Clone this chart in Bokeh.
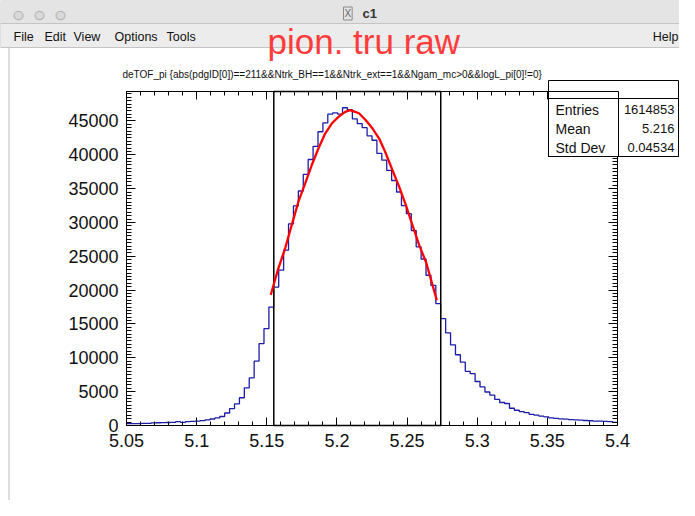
from bokeh.plotting import figure
from bokeh.models import Label, BoxAnnotation, LinearAxis, FixedTicker, Range1d
from bokeh.embed import file_html
from bokeh.resources import INLINE
import numpy as np

# ---------------- data ----------------
x_min, x_max, n_bins = 5.05, 5.40, 100
counts = [270, 280, 290, 300, 310, 400, 410, 420, 440, 450,
          560, 470, 560, 600, 650, 720, 830, 960, 1120, 1330,
          1850, 2500, 3200, 4100, 5550, 7050, 9500, 12100, 14300, 17500,
          20450, 22950, 25900, 29800, 32450, 34650, 37100, 39300, 41250, 43400,
          44700, 46000, 46200, 46000, 46950, 46650, 45300, 44600, 44000, 42800,
          42150, 40200, 39200, 37700, 36200, 34500, 32500, 31300, 28800, 26400,
          24600, 22200, 20700, 18000, 15800, 13700, 11900, 10450, 9350, 8000,
          7650, 6500, 5700, 4950, 4500, 3850, 3400, 3250, 2550, 2250,
          2050, 1900, 1650, 1530, 1380, 1280, 1130, 1050, 990, 930,
          880, 840, 790, 740, 700, 660, 640, 600, 580, 450]
cut_lo, cut_hi = 5.155, 5.274
fit_x = [5.1528, 5.1534, 5.1582, 5.1630, 5.1677, 5.1725, 5.1773, 5.1820, 5.1868,
         5.1916, 5.1963, 5.2011, 5.2059, 5.2094, 5.2130, 5.2159, 5.2206, 5.2254,
         5.2301, 5.2349, 5.2396, 5.2444, 5.2492, 5.2539, 5.2587, 5.2635, 5.2682, 5.2712]
fit_y = [19300, 19720, 23170, 26120, 29570, 33030, 35740, 38450, 40920,
         43140, 44620, 45610, 46350, 46590, 46350, 46090, 45100, 43880,
         42400, 40180, 37710, 35250, 32530, 29570, 26610, 24150, 20700, 18500]
x_ticks = [5.05, 5.1, 5.15, 5.2, 5.25, 5.3, 5.35, 5.4]
x_tick_labels = ["5.05", "5.1", "5.15", "5.2", "5.25", "5.3", "5.35", "5.4"]
y_ticks = [0, 5000, 10000, 15000, 20000, 25000, 30000, 35000, 40000, 45000]
y_max = 49350
title_text = "deTOF_pi {abs(pdgID[0])==211&&Ntrk_BH==1&&Ntrk_ext==1&&Ngam_mc>0&&logL_pi[0]!=0}"
stats_names = ["Entries", "Mean", "Std Dev"]
stats_values = ["1614853", "5.216", "0.04534"]
menu_items = ["File", "Edit", "View", "Options", "Tools"]
menu_x = [13, 44, 73, 114, 166]
overlay_text = "pion. tru raw"

FONT = "Liberation Sans"
W, H = 679, 500
# where the histogram frame sits on the canvas (pixels)
FL, FR, FT, FB = 126, 617, 91, 425

sx = (FR - FL) / (x_max - x_min)
sy = (FB - FT) / y_max
xr = Range1d(x_min - FL / sx, x_max + (W - FR) / sx)
yr = Range1d(-(H - FB) / sy, y_max + FT / sy)

x_minor = [t for t in np.round(np.arange(x_min, x_max + 1e-9, 0.01), 3) if not np.any(np.isclose(t, x_ticks))]
y_minor = [t for t in range(0, y_max, 500) if t not in y_ticks]

edges = np.linspace(x_min, x_max, n_bins + 1)
hx, hy = [], []
for i, c in enumerate(counts):
    hx += [edges[i], edges[i + 1]]
    hy += [c, c]

p = figure(width=W, height=H, output_backend="svg", toolbar_location=None,
           x_range=xr, y_range=yr, x_axis_location=None, y_axis_location=None,
           min_border=0, min_border_left=0, min_border_right=0, min_border_top=0, min_border_bottom=0)
p.background_fill_color = "white"
p.border_fill_color = "white"
p.outline_line_color = None
p.xgrid.visible = False
p.ygrid.visible = False

def style(ax, tick_in, minor_in):
    ax.major_tick_out = 0
    ax.minor_tick_out = 0
    ax.major_tick_in = tick_in
    ax.minor_tick_in = minor_in
    ax.axis_line_color = "black"
    ax.major_tick_line_color = "black"
    ax.minor_tick_line_color = "black"
    ax.axis_line_width = 1

# bottom axis (labelled)
xb = LinearAxis(fixed_location=0, bounds=(x_min, x_max),
                ticker=FixedTicker(ticks=x_ticks, minor_ticks=x_minor),
                major_label_overrides={t: l for t, l in zip(x_ticks, x_tick_labels)},
                major_label_text_font=FONT, major_label_text_font_size="18px",
                major_label_text_color="#111111", major_label_standoff=8)
style(xb, 8, 4)
p.add_layout(xb, "below")
# left axis (labelled)
yl = LinearAxis(fixed_location=x_min, bounds=(0, y_max),
                ticker=FixedTicker(ticks=y_ticks, minor_ticks=y_minor),
                major_label_text_font=FONT, major_label_text_font_size="18px",
                major_label_text_color="#111111", major_label_standoff=8)
style(yl, 9, 5)
p.add_layout(yl, "left")
# top / right axes: tick marks only (no labels)
for loc, side, majors, minors, tin, min_in in [
        (y_max, "above", x_ticks, x_minor, 8, 4),
        (x_max, "right", y_ticks, y_minor, 9, 5)]:
    bounds = (x_min, x_max) if side == "above" else (0, y_max)
    a1 = LinearAxis(fixed_location=loc, bounds=bounds, ticker=FixedTicker(ticks=[], minor_ticks=minors))
    style(a1, 0, min_in)
    p.add_layout(a1, side)
    a2 = LinearAxis(fixed_location=loc, bounds=bounds, ticker=FixedTicker(ticks=[], minor_ticks=majors))
    style(a2, 0, tin)
    p.add_layout(a2, side)

# histogram
p.line(hx, hy, line_color="#1c1ca8", line_width=1.3)
# boundary steps in yellow
p.segment(x0=[cut_lo, cut_hi], y0=[counts[29], counts[63]], x1=[cut_lo, cut_hi], y1=[counts[30], counts[64]],
          line_color="#f5f07a", line_width=1.5)
# cut box
p.quad(left=[cut_lo], right=[cut_hi], bottom=[0], top=[y_max], fill_alpha=0,
       line_color="black", line_width=1.5)
# fit
p.line(fit_x, fit_y, line_color="#ff0000", line_width=2.3)

def box(l, r, t, b, **kw):
    p.add_layout(BoxAnnotation(left=l, right=r, top=t, bottom=b, left_units="canvas", right_units="canvas",
                               top_units="canvas", bottom_units="canvas", **kw))

def label(x, y, text, size, **kw):
    kw.setdefault("text_font", FONT)
    kw.setdefault("text_color", "#111111")
    kw.setdefault("text_baseline", "middle")
    p.add_layout(Label(x=x, y=y, x_units="canvas", y_units="canvas", text=text,
                       text_font_size=size, **kw))

# ---- window chrome ----
box(0, W, 0, 23, fill_color="#e4e4e4", fill_alpha=1, line_color="#cfcfcf", line_alpha=1)
box(0, W, 23, 47, fill_color="#ececec", fill_alpha=1, line_color="#c4c4c4", line_alpha=1)
box(8, 9, 47, H, fill_color="#bdbdbd", fill_alpha=1, line_alpha=0)
for xx in [18, 39, 60]:
    label(xx, 14, "\u25cf", "22px", text_color="#d9d9d9", text_align="center")
    label(xx, 14, "\u25cb", "22px", text_color="#b4b4b4", text_align="center")
label(343, 13, "X", "10px", text_color="#666666", border_line_color="#8a8a8a", border_line_alpha=1,
      padding=1)
label(362, 13, "c1", "13px", text_color="#333333", text_font_style="bold")
for name, xx in zip(menu_items, menu_x):
    label(xx, 36, name, "12.5px")
label(678, 36, "Help", "12.5px", text_align="right")
label(267, 41, overlay_text, "35px", text_color="#ff3b3b")

# ROOT title
label(122, 74, title_text, "10px")

# stats box
box(548, 678, 80, 156, fill_color="white", fill_alpha=1, line_color="black", line_alpha=1, line_width=1)
box(548, 678, 98, 156, fill_alpha=0, line_color="black", line_alpha=1, line_width=1)
box(548, 618, 91, 156, fill_alpha=0, line_color="black", line_alpha=1, line_width=1)
for i, (nm, vv) in enumerate(zip(stats_names, stats_values)):
    yy = 109 + 19 * i
    label(555, yy, nm, "14px")
    label(674, yy, vv, "13px", text_align="right")

open("out.html", "w").write(file_html(p, INLINE))
